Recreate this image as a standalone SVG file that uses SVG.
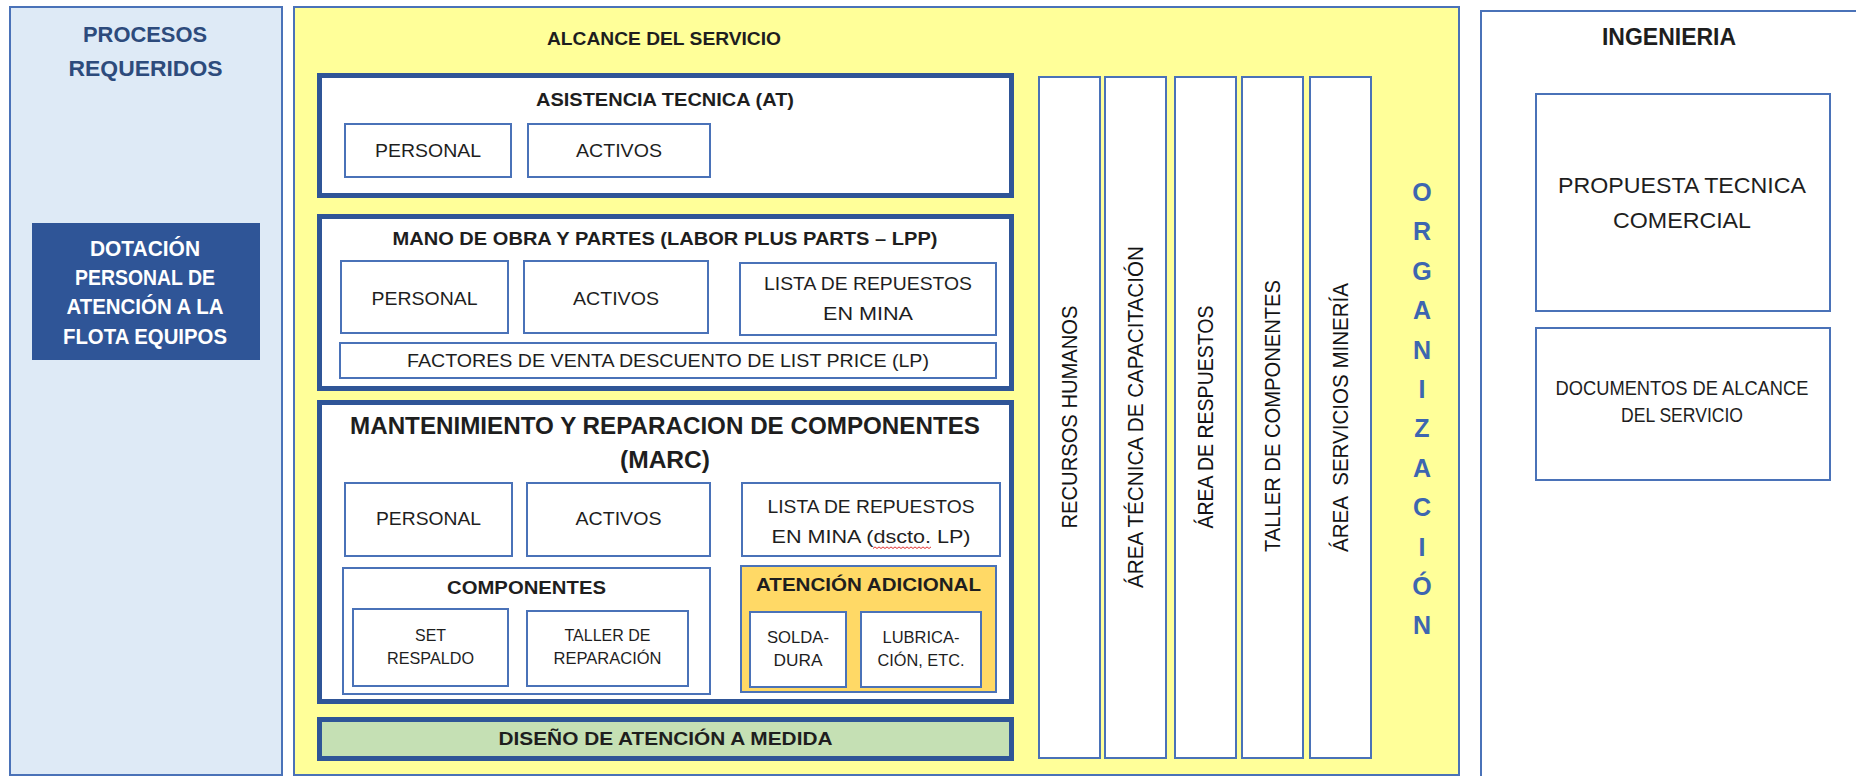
<svg xmlns="http://www.w3.org/2000/svg" width="1856" height="776" viewBox="0 0 1856 776">
  <style>
    text { font-family: "Liberation Sans", Arial, sans-serif; fill: #1e1e1e; text-anchor: middle; }
    .b { font-weight: bold; }
    .panel { stroke: #4a72b8; stroke-width: 2; }
    .thick { fill: #ffffff; stroke: #2f5597; stroke-width: 5; }
    .box { fill: #ffffff; stroke: #4a72b8; stroke-width: 2; }
    .col { fill: #ffffff; stroke: #4a72b8; stroke-width: 2; }
    .vlabel { font-size: 22px; fill: #141414; }
    .head { fill: #2d4b7c; font-weight: bold; }
    .white { fill: #ffffff; font-weight: bold; }
    .org { fill: #3d66b0; font-weight: bold; font-size: 25px; }
  </style>

  <!-- left column: required processes -->
  <g id="procesos">
    <rect class="panel" x="10" y="7" width="272" height="768" fill="#deeaf6"/>
    <text class="head" x="145" y="41.7" font-size="21.5" textLength="124" lengthAdjust="spacingAndGlyphs">PROCESOS</text>
    <text class="head" x="145.5" y="75.7" font-size="21.5" textLength="154" lengthAdjust="spacingAndGlyphs">REQUERIDOS</text>
  </g>
  <g id="dotacion">
    <rect x="32" y="223" width="228" height="137" fill="#2f5597"/>
    <text class="white" x="145" y="255.9" font-size="22" textLength="110" lengthAdjust="spacingAndGlyphs">DOTACIÓN</text>
    <text class="white" x="145" y="284.9" font-size="22" textLength="140" lengthAdjust="spacingAndGlyphs">PERSONAL DE</text>
    <text class="white" x="145" y="313.9" font-size="22" textLength="157" lengthAdjust="spacingAndGlyphs">ATENCIÓN A LA</text>
    <text class="white" x="145" y="343.9" font-size="22" textLength="164" lengthAdjust="spacingAndGlyphs">FLOTA EQUIPOS</text>
  </g>

  <!-- middle: service scope -->
  <g id="alcance">
    <rect class="panel" x="294" y="7" width="1165" height="768" fill="#ffff99"/>
    <text class="b" x="664" y="44.8" font-size="19" textLength="234" lengthAdjust="spacingAndGlyphs">ALCANCE DEL SERVICIO</text>
  </g>

  <g id="asistencia-tecnica">
    <rect class="thick" x="319.5" y="75.5" width="692" height="120"/>
    <text class="b" x="665" y="105.6" font-size="18.5" textLength="258" lengthAdjust="spacingAndGlyphs">ASISTENCIA TECNICA (AT)</text>
    <g id="at-personal">
      <rect class="box" x="345" y="124" width="166" height="53"/>
      <text x="428" y="156.6" font-size="18.5" textLength="106" lengthAdjust="spacingAndGlyphs">PERSONAL</text>
    </g>
    <g id="at-activos">
      <rect class="box" x="528" y="124" width="182" height="53"/>
      <text x="619" y="156.6" font-size="18.5" textLength="86" lengthAdjust="spacingAndGlyphs">ACTIVOS</text>
    </g>
  </g>

  <g id="lpp">
    <rect class="thick" x="319.5" y="216.5" width="692" height="172"/>
    <text class="b" x="665" y="244.6" font-size="18.5" textLength="545" lengthAdjust="spacingAndGlyphs">MANO DE OBRA Y PARTES (LABOR PLUS PARTS – LPP)</text>
    <g id="lpp-personal">
      <rect class="box" x="341" y="261" width="167" height="72"/>
      <text x="424.5" y="304.6" font-size="18.5" textLength="106" lengthAdjust="spacingAndGlyphs">PERSONAL</text>
    </g>
    <g id="lpp-activos">
      <rect class="box" x="524" y="261" width="184" height="72"/>
      <text x="616" y="304.6" font-size="18.5" textLength="86" lengthAdjust="spacingAndGlyphs">ACTIVOS</text>
    </g>
    <g id="lpp-lista">
      <rect class="box" x="740" y="263" width="256" height="72"/>
      <text x="868" y="289.6" font-size="18.5" textLength="208" lengthAdjust="spacingAndGlyphs">LISTA DE REPUESTOS</text>
      <text x="868" y="319.6" font-size="18.5" textLength="90" lengthAdjust="spacingAndGlyphs">EN MINA</text>
    </g>
    <g id="lpp-factores">
      <rect class="box" x="340" y="343" width="656" height="35"/>
      <text x="668" y="366.6" font-size="18.5" textLength="522" lengthAdjust="spacingAndGlyphs">FACTORES DE VENTA DESCUENTO DE LIST PRICE (LP)</text>
    </g>
  </g>

  <g id="marc">
    <rect class="thick" x="319.5" y="402.5" width="692" height="299"/>
    <text class="b" x="665" y="434.2" font-size="23" textLength="630" lengthAdjust="spacingAndGlyphs">MANTENIMIENTO Y REPARACION DE COMPONENTES</text>
    <text class="b" x="665" y="468.2" font-size="23" textLength="90" lengthAdjust="spacingAndGlyphs">(MARC)</text>
    <g id="marc-personal">
      <rect class="box" x="345" y="483" width="167" height="73"/>
      <text x="428.5" y="524.6" font-size="18.5" textLength="105" lengthAdjust="spacingAndGlyphs">PERSONAL</text>
    </g>
    <g id="marc-activos">
      <rect class="box" x="527" y="483" width="183" height="73"/>
      <text x="618.5" y="524.6" font-size="18.5" textLength="86" lengthAdjust="spacingAndGlyphs">ACTIVOS</text>
    </g>
    <g id="marc-lista">
      <rect class="box" x="742" y="483" width="258" height="73"/>
      <text x="871" y="512.6" font-size="18.5" textLength="207" lengthAdjust="spacingAndGlyphs">LISTA DE REPUESTOS</text>
      <text x="871" y="542.6" font-size="18.5" textLength="199" lengthAdjust="spacingAndGlyphs">EN MINA (dscto. LP)</text>
      <path d="M873 548.5 l2 -1.6 l2 1.6 l2 -1.6 l2 1.6 l2 -1.6 l2 1.6 l2 -1.6 l2 1.6 l2 -1.6 l2 1.6 l2 -1.6 l2 1.6 l2 -1.6 l2 1.6 l2 -1.6 l2 1.6 l2 -1.6 l2 1.6 l2 -1.6 l2 1.6 l2 -1.6 l2 1.6 l2 -1.6 l2 1.6 l2 -1.6 l2 1.6 l2 -1.6 l2 1.6 l2 -1.6" fill="none" stroke="#e03030" stroke-width="1"/>
    </g>
    <g id="componentes">
      <rect class="box" x="343" y="568" width="367" height="126"/>
      <text class="b" x="526.5" y="593.6" font-size="18.5" textLength="159" lengthAdjust="spacingAndGlyphs">COMPONENTES</text>
      <g id="set-respaldo">
        <rect class="box" x="353" y="609" width="155" height="77"/>
        <text x="430.5" y="641" font-size="17" textLength="31" lengthAdjust="spacingAndGlyphs">SET</text>
        <text x="430.5" y="664" font-size="17" textLength="87" lengthAdjust="spacingAndGlyphs">RESPALDO</text>
      </g>
      <g id="taller-reparacion">
        <rect class="box" x="527" y="611" width="161" height="75"/>
        <text x="607.5" y="641" font-size="17" textLength="86" lengthAdjust="spacingAndGlyphs">TALLER DE</text>
        <text x="607.5" y="664" font-size="17" textLength="108" lengthAdjust="spacingAndGlyphs">REPARACIÓN</text>
      </g>
    </g>
    <g id="atencion-adicional">
      <rect x="741" y="566" width="255" height="126" fill="#ffd966" stroke="#4a72b8" stroke-width="2"/>
      <text class="b" x="868.5" y="590.8" font-size="19" textLength="225" lengthAdjust="spacingAndGlyphs">ATENCIÓN ADICIONAL</text>
      <g id="soldadura">
        <rect class="box" x="750" y="612" width="96" height="75"/>
        <text x="798" y="642.9" font-size="16.5" textLength="62" lengthAdjust="spacingAndGlyphs">SOLDA-</text>
        <text x="798" y="665.9" font-size="16.5" textLength="49" lengthAdjust="spacingAndGlyphs">DURA</text>
      </g>
      <g id="lubricacion">
        <rect class="box" x="861" y="612" width="120" height="75"/>
        <text x="921" y="642.9" font-size="16.5" textLength="77" lengthAdjust="spacingAndGlyphs">LUBRICA-</text>
        <text x="921" y="665.9" font-size="16.5" textLength="87" lengthAdjust="spacingAndGlyphs">CIÓN, ETC.</text>
      </g>
    </g>
  </g>

  <g id="diseno">
    <rect class="thick" x="319.5" y="719.5" width="692" height="39" style="fill:#c5e0b4"/>
    <text class="b" x="665.5" y="744.8" font-size="19" textLength="334" lengthAdjust="spacingAndGlyphs">DISEÑO DE ATENCIÓN A MEDIDA</text>
  </g>

  <!-- organisational areas, vertical labels -->
  <g id="recursos-humanos">
    <rect class="col" x="1039" y="77" width="61" height="681"/>
    <text class="vlabel" transform="translate(1069.5 417) rotate(-90)" y="7.9" textLength="223" lengthAdjust="spacingAndGlyphs">RECURSOS HUMANOS</text>
  </g>
  <g id="area-tecnica">
    <rect class="col" x="1105" y="77" width="61" height="681"/>
    <text class="vlabel" transform="translate(1135.5 417) rotate(-90)" y="7.9" textLength="342" lengthAdjust="spacingAndGlyphs">ÁREA TÉCNICA DE CAPACITACIÓN</text>
  </g>
  <g id="area-repuestos">
    <rect class="col" x="1175" y="77" width="61" height="681"/>
    <text class="vlabel" transform="translate(1205.5 417) rotate(-90)" y="7.9" textLength="223" lengthAdjust="spacingAndGlyphs">ÁREA DE RESPUESTOS</text>
  </g>
  <g id="taller-componentes">
    <rect class="col" x="1242" y="77" width="61" height="681"/>
    <text class="vlabel" transform="translate(1272.5 416) rotate(-90)" y="7.9" textLength="272" lengthAdjust="spacingAndGlyphs">TALLER DE COMPONENTES</text>
  </g>
  <g id="area-servicios">
    <rect class="col" x="1310" y="77" width="61" height="681"/>
    <text class="vlabel" transform="translate(1340.5 417.5) rotate(-90)" y="7.9" textLength="269" lengthAdjust="spacingAndGlyphs" xml:space="preserve">ÁREA  SERVICIOS MINERÍA</text>
  </g>

  <g id="organizacion">
    <text class="org" x="1422" y="201">O</text>
    <text class="org" x="1422" y="240.4">R</text>
    <text class="org" x="1422" y="279.8">G</text>
    <text class="org" x="1422" y="319.2">A</text>
    <text class="org" x="1422" y="358.6">N</text>
    <text class="org" x="1422" y="398">I</text>
    <text class="org" x="1422" y="437.4">Z</text>
    <text class="org" x="1422" y="476.8">A</text>
    <text class="org" x="1422" y="516.2">C</text>
    <text class="org" x="1422" y="555.6">I</text>
    <text class="org" x="1422" y="595">Ó</text>
    <text class="org" x="1422" y="634.4">N</text>
  </g>

  <!-- right column: engineering -->
  <g id="ingenieria">
    <rect class="panel" x="1481" y="11" width="400" height="800" fill="#ffffff"/>
    <text class="b" x="1669" y="45.2" font-size="23">INGENIERIA</text>
  </g>
  <g id="propuesta">
    <rect class="box" x="1536" y="94" width="294" height="217"/>
    <text x="1682" y="192.7" font-size="21.5" textLength="248" lengthAdjust="spacingAndGlyphs">PROPUESTA TECNICA</text>
    <text x="1682" y="227.7" font-size="21.5" textLength="138" lengthAdjust="spacingAndGlyphs">COMERCIAL</text>
  </g>
  <g id="documentos">
    <rect class="box" x="1536" y="328" width="294" height="152"/>
    <text x="1682" y="395" font-size="19.5" textLength="253" lengthAdjust="spacingAndGlyphs">DOCUMENTOS DE ALCANCE</text>
    <text x="1682" y="422" font-size="19.5" textLength="122" lengthAdjust="spacingAndGlyphs">DEL SERVICIO</text>
  </g>
</svg>
